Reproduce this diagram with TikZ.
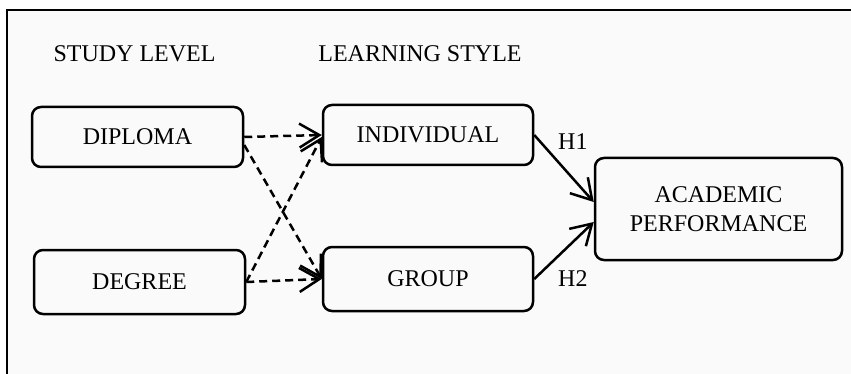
\documentclass[tikz,border=0pt]{standalone}
\usepackage{fontspec}
\setmainfont{Liberation Serif}
\usetikzlibrary{arrows.meta}
\begin{document}
\begin{tikzpicture}[x=1pt,y=-1pt,
  box/.style={draw,line width=2.5pt,rounded corners=9pt,inner sep=0pt,align=center,font=\fontsize{24}{29}\selectfont},
  lbl/.style={inner sep=0pt,font=\fontsize{24}{29}\selectfont},
  tip/.style={-{Straight Barb[length=20pt,width=24pt]}},
  dsh/.style={line width=2.5pt,dash pattern=on 8pt off 5pt,tip},
  sld/.style={line width=2.5pt,tip}]
\useasboundingbox (0,0) rectangle (851,374);
\fill[white!98!black] (7,10) rectangle (851,374);
\draw[line width=2pt] (7,374) -- (7,10) -- (851,10);
\node[lbl,anchor=base] (sl) at (134.5,62) {STUDY LEVEL};
\node[lbl,anchor=base] (ls) at (420,62) {LEARNING STYLE};
\node[box,minimum width=211pt,minimum height=60pt] (dip) at (137.5,137) {DIPLOMA};
\node[box,minimum width=211pt,minimum height=64pt] (deg) at (139.5,282) {DEGREE};
\node[box,minimum width=210pt,minimum height=60pt] (ind) at (428,135) {INDIVIDUAL};
\node[box,minimum width=210pt,minimum height=64pt] (grp) at (428,279) {GROUP};
\node[box,minimum width=247pt,minimum height=102pt] (acad) at (718.5,209) {ACADEMIC\\PERFORMANCE};
\draw[dsh] (dip.east) -- (ind.west);
\draw[dsh] (deg.east) -- (grp.west);
\draw[dsh] ([yshift=-8pt]dip.east) -- (grp.west);
\draw[dsh] (deg.east) -- ([yshift=-2pt]ind.west);
\draw[sld] (ind.east) -- ([yshift=7pt]acad.west);
\draw[sld] (grp.east) -- ([yshift=-13pt]acad.west);
\node[lbl,anchor=base west] (h1) at (558,150) {H1};
\node[lbl,anchor=base west] (h2) at (558,286) {H2};
\end{tikzpicture}
\end{document}
